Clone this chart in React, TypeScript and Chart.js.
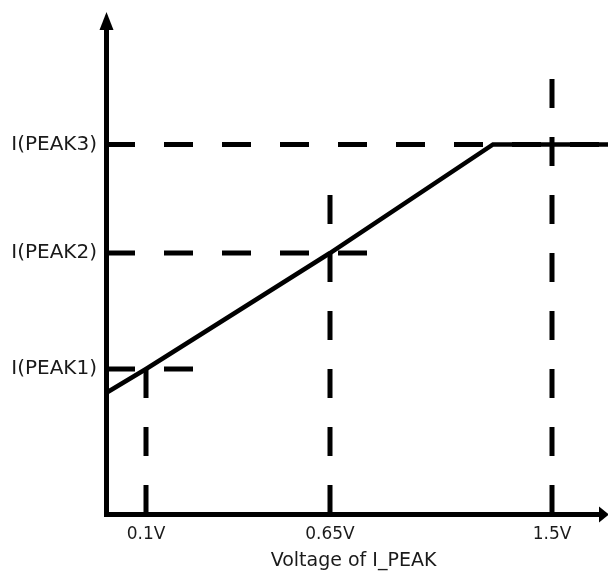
import React, { useEffect, useRef } from "react";
import { Chart, registerables } from "chart.js";

Chart.register(...registerables);

// Schematic units (axis positions), not real volts/amps
const xTickPositions = [40, 224, 446];
const xTickLabels = ["0.1V", "0.65V", "1.5V"];
const yTickPositions = [145, 261, 369.5];
const yTickLabels = ["I(PEAK1)", "I(PEAK2)", "I(PEAK3)"];

const curveX = [0, 40, 224, 387, 502];
const curveY = [121, 145, 261, 369.5, 369.5];

// how far each horizontal guide reaches to the right
const hGuideEnds = [90, 264, 502];
// how high each vertical guide reaches
const vGuideEnds = [145, 320, 439];

const X_MAX = 495;
const Y_MAX = 490;

const arrowPlugin = {
  id: "axisArrows",
  afterDraw(chart: any) {
    const { ctx, chartArea } = chart;
    const ax = chartArea.left + 0.5;
    const ay = chartArea.bottom + 0.5;
    ctx.save();
    ctx.fillStyle = "#000";
    ctx.beginPath();
    ctx.moveTo(ax, chartArea.top - 12);
    ctx.lineTo(ax - 7, chartArea.top + 6);
    ctx.lineTo(ax + 7, chartArea.top + 6);
    ctx.closePath();
    ctx.fill();
    ctx.beginPath();
    ctx.moveTo(chartArea.right + 8, ay);
    ctx.lineTo(chartArea.right - 2, ay - 8);
    ctx.lineTo(chartArea.right - 2, ay + 8);
    ctx.closePath();
    ctx.fill();
    ctx.restore();
  },
};

export default function App() {
  const ref = useRef<HTMLCanvasElement>(null);

  useEffect(() => {
    if (!ref.current) return;
    const guideStyle = {
      borderColor: "#000",
      borderWidth: 5,
      borderDash: [29, 29],
      borderCapStyle: "butt",
      pointRadius: 0,
      fill: false,
      tension: 0,
      clip: false,
    };
    const datasets: any[] = [];
    yTickPositions.forEach((yv, i) => {
      datasets.push({
        ...guideStyle,
        data: [
          { x: 0, y: yv },
          { x: hGuideEnds[i], y: yv },
        ],
      });
    });
    xTickPositions.forEach((xv, i) => {
      datasets.push({
        ...guideStyle,
        data: [
          { x: xv, y: 0 },
          { x: xv, y: vGuideEnds[i] },
        ],
      });
    });
    datasets.push({
      data: curveX.map((x, i) => ({ x, y: curveY[i] })),
      borderColor: "#000",
      borderWidth: 4.5,
      pointRadius: 0,
      fill: false,
      tension: 0,
      clip: false,
      borderJoinStyle: "miter",
    });

    const chart = new Chart(ref.current, {
      type: "line",
      data: { datasets },
      plugins: [arrowPlugin],
      options: {
        responsive: false,
        animation: false,
        layout: { padding: { top: 24, right: 7, left: 0, bottom: 0 } },
        plugins: {
          legend: { display: false },
          tooltip: { enabled: false },
        },
        scales: {
          x: {
            type: "linear",
            min: 0,
            max: X_MAX,
            grid: { display: false, drawTicks: false },
            border: { display: true, color: "#000", width: 5 },
            afterBuildTicks: (s: any) => {
              s.ticks = xTickPositions.map((v) => ({ value: v }));
            },
            afterFit: (s: any) => {
              s.height = 63;
            },
            ticks: {
              autoSkip: false,
              maxRotation: 0,
              padding: 10,
              color: "#1a1a1a",
              font: { family: "DejaVu Sans", size: 17 },
              callback: (_v: any, i: number) => xTickLabels[i],
            },
            title: {
              display: true,
              text: "Voltage of I_PEAK",
              color: "#1a1a1a",
              font: { family: "DejaVu Sans", size: 19 },
              padding: { top: 0, bottom: 5 },
            },
          },
          y: {
            type: "linear",
            min: 0,
            max: Y_MAX,
            grid: { display: false, drawTicks: false },
            border: { display: true, color: "#000", width: 5 },
            afterBuildTicks: (s: any) => {
              s.ticks = yTickPositions.map((v) => ({ value: v }));
            },
            afterFit: (s: any) => {
              s.width = 106;
            },
            ticks: {
              autoSkip: false,
              padding: 9,
              color: "#1a1a1a",
              font: { family: "DejaVu Sans", size: 20 },
              callback: (_v: any, i: number) => yTickLabels[i],
            },
          },
        },
      } as any,
    });
    return () => chart.destroy();
  }, []);

  return (
    <div style={{ position: "fixed", left: 0, top: 0, width: 608, height: 577, background: "#fff" }}>
      <canvas ref={ref} width={608} height={577} style={{ display: "block" }} />
    </div>
  );
}
